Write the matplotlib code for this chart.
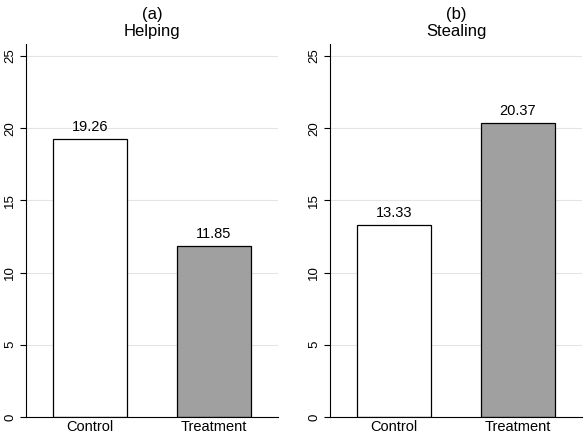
import matplotlib
matplotlib.use("Agg")
import matplotlib.pyplot as plt

plt.rcParams['font.family'] = ['Liberation Sans', 'DejaVu Sans']

groups = ["Control", "Treatment"]
panel_titles = ["(a)\nHelping", "(b)\nStealing"]
helping = [19.26, 11.85]
stealing = [13.33, 20.37]
yticks = [0, 5, 10, 15, 20, 25]

fig = plt.figure(figsize=(5.88, 4.44), dpi=100)
lefts = [26 / 588, 330 / 588]
colors = ["white", "#a0a0a0"]

for left, title, vals in zip(lefts, panel_titles, [helping, stealing]):
    ax = fig.add_axes([left, 0.0608, 0.4286, 0.8401])
    xs = range(len(groups))
    ax.bar(xs, vals, width=0.6, color=colors, edgecolor="black", linewidth=0.9, zorder=3)
    for x, v in zip(xs, vals):
        ax.annotate(f"{v:.2f}", (x, v), xytext=(0, 3.5), textcoords="offset points",
                    ha="center", va="bottom", fontsize=10.5)
    ax.set_xlim(-0.52, 1.52)
    ax.set_ylim(0, 25.83)
    ax.set_yticks(yticks)
    ax.set_yticklabels([str(t) for t in yticks], rotation=90, va="center", fontsize=9.5)
    ax.set_xticks(list(xs))
    ax.set_xticklabels(groups, fontsize=10.5)
    ax.tick_params(axis="x", length=0, pad=2)
    ax.tick_params(axis="y", length=4, width=0.8, pad=3)
    ax.grid(axis="y", color="#e4e4e4", linewidth=0.8, zorder=0)
    for s in ["top", "right"]:
        ax.spines[s].set_visible(False)
    ax.spines["left"].set_linewidth(0.8)
    ax.spines["bottom"].set_linewidth(0.8)
    ax.spines["bottom"].set_zorder(4)
    ax.set_title(title, fontsize=12, pad=6, linespacing=1.15)

fig.savefig("out.png", dpi=100, facecolor="white")
